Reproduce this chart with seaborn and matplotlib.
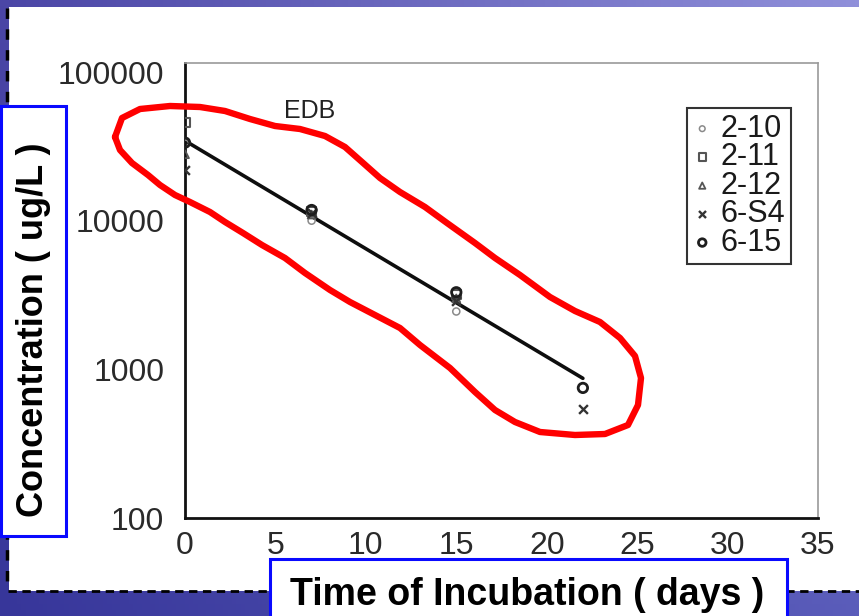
import numpy as np
import pandas as pd
import matplotlib
matplotlib.use("Agg")
import matplotlib.pyplot as plt
import seaborn as sns
from matplotlib.patches import Rectangle
from matplotlib.lines import Line2D
from matplotlib.colors import to_rgb

# ---------------- data ----------------
series_names = ["2-10", "2-11", "2-12", "6-S4", "6-15"]
days_2_10 = [0, 7, 15]
conc_2_10 = [33000, 10000, 2450]
days_2_11 = [0, 7, 15]
conc_2_11 = [46000, 11500, 3200]
days_2_12 = [0, 7, 15]
conc_2_12 = [28000, 11000, 3000]
days_6_S4 = [0, 7, 15, 22]
conc_6_S4 = [22000, 11200, 2900, 540]
days_6_15 = [0, 7, 15, 22]
conc_6_15 = [33500, 11800, 3300, 750]
trend_days = [0, 22]
trend_conc = [34500, 870]
x_ticks = [0, 5, 10, 15, 20, 25, 30, 35]
y_ticks = [100, 1000, 10000, 100000]
y_tick_labels = ["100", "1000", "10000", "100000"]

rows = []
for name, d, c in [("2-10", days_2_10, conc_2_10), ("2-11", days_2_11, conc_2_11),
                   ("2-12", days_2_12, conc_2_12), ("6-S4", days_6_S4, conc_6_S4),
                   ("6-15", days_6_15, conc_6_15)]:
    for dd, cc in zip(d, c):
        rows.append({"series": name, "day": dd, "conc": cc})
df = pd.DataFrame(rows)
trend_df = pd.DataFrame({"day": trend_days, "conc": trend_conc})

# ---------------- figure ----------------
sns.set_style("white")
plt.rcParams["font.family"] = ["Liberation Sans", "DejaVu Sans"]
W, H = 859, 616
fig = plt.figure(figsize=(W / 100, H / 100), dpi=100)

def px(x, y):
    return x / W, 1 - y / H

# gradient background
bg = fig.add_axes([0, 0, 1, 1], zorder=0)
bg.set_axis_off()
tl, tr = np.array(to_rgb("#4b46a6")), np.array(to_rgb("#9090da"))
bl, br = np.array(to_rgb("#37369a")), np.array(to_rgb("#5a5cba"))
xs = np.linspace(0, 1, 200)[None, :, None]
ys = np.linspace(0, 1, 100)[:, None, None]
img = (1 - ys) * ((1 - xs) * tl + xs * tr) + ys * ((1 - xs) * bl + xs * br)
bg.imshow(img, aspect="auto", extent=[0, 1, 0, 1], origin="upper")
bg.set_xlim(0, 1)
bg.set_ylim(0, 1)

# white slide area
x0, y0 = px(9, 591)
x1, y1 = px(859, 7)
fig.patches.append(Rectangle((x0, y0), x1 - x0, y1 - y0, transform=fig.transFigure,
                             facecolor="white", edgecolor="none", zorder=1))
# dashed borders
fig.lines.append(Line2D([px(7, 0)[0]] * 2, [px(0, 8)[1], px(0, 591)[1]], transform=fig.transFigure,
                        color="black", lw=2.5, ls=(0, (3, 3)), zorder=2))
fig.lines.append(Line2D([px(8, 0)[0], px(859, 0)[0]], [px(0, 591)[1]] * 2, transform=fig.transFigure,
                        color="black", lw=2.0, ls=(0, (3, 2)), zorder=2))

# ---------------- main axes ----------------
ax = fig.add_axes([185 / W, 1 - 518 / H, (818 - 185) / W, (518 - 63) / H], zorder=3)
ax.set_facecolor("none")

styles = {
    "2-10": dict(marker="o", s=26, ec="#8a8a8a", lw=1.1),
    "2-11": dict(marker="s", s=44, ec="#555555", lw=1.5),
    "2-12": dict(marker="^", s=32, ec="#555555", lw=1.3),
    "6-S4": dict(marker="x", s=40, ec="#333333", lw=1.7),
    "6-15": dict(marker="o", s=46, ec="#1e1e1e", lw=2.0),
}
sns.lineplot(data=trend_df, x="day", y="conc", color="#0e0e0e", lw=2.6, ax=ax, zorder=2)
for name in series_names:
    st = styles[name]
    sub = df[df["series"] == name]
    if st["marker"] == "x":
        sns.scatterplot(data=sub, x="day", y="conc", marker="x", s=st["s"], color=st["ec"],
                        linewidth=st["lw"], ax=ax, label=name, zorder=3)
    else:
        sns.scatterplot(data=sub, x="day", y="conc", marker=st["marker"], s=st["s"],
                        facecolor="none", edgecolor=st["ec"], linewidth=st["lw"],
                        ax=ax, label=name, zorder=3)

ax.set_yscale("log")
ax.set_xlim(0, 35)
ax.set_ylim(100, 1.15e5)
ax.set_xticks(x_ticks)
ax.set_xticklabels([str(t) for t in x_ticks])
ax.set_yticks(y_ticks)
ax.set_yticklabels(y_tick_labels)
ax.yaxis.set_minor_locator(matplotlib.ticker.NullLocator())
ax.set_xlabel("")
ax.set_ylabel("")
ax.tick_params(axis="both", direction="out", length=5, width=1.2, color="#333333",
               labelsize=23, labelcolor="#2a2a2a")
ax.tick_params(axis="x", pad=4)
ax.tick_params(axis="y", pad=10)
for side in ["left", "bottom"]:
    ax.spines[side].set_color("#111111")
    ax.spines[side].set_linewidth(2.0)
for side in ["top", "right"]:
    ax.spines[side].set_color("#9a9a9a")
    ax.spines[side].set_linewidth(1.2)

ax.text(6.9, 5.5e4, "EDB", fontsize=18, color="#222222", ha="center", va="center")

leg = ax.legend(loc="upper left", bbox_to_anchor=(0.793, 0.902), fontsize=22,
                frameon=True, fancybox=False, edgecolor="#333333", framealpha=1,
                handlelength=0.6, handletextpad=0.3, labelspacing=-0.05,
                borderpad=0.2, borderaxespad=0, markerscale=0.8)
leg.get_frame().set_linewidth(1.5)
for t in leg.get_texts():
    t.set_color("#1a1a1a")

# ---------------- red hand-drawn loop ----------------
loop_px = [(115, 137), (122, 118), (140, 109), (170, 106), (200, 107), (225, 111), (250, 119),
           (275, 126), (300, 129), (325, 136), (345, 147), (362, 162), (380, 178), (400, 192),
           (425, 207), (447, 223), (475, 243), (495, 258), (520, 275), (550, 297), (575, 311),
           (600, 322), (620, 338), (635, 356), (641, 378), (638, 405), (628, 425), (605, 434),
           (575, 435), (540, 432), (515, 422), (495, 410), (475, 392), (450, 368), (420, 345),
           (400, 328), (375, 315), (350, 302), (330, 290), (305, 273), (285, 258), (262, 245),
           (243, 233), (225, 222), (210, 212), (190, 202), (175, 195), (160, 185), (148, 175),
           (132, 163), (120, 150), (115, 137)]
lx = [px(a, b)[0] for a, b in loop_px]
ly = [px(a, b)[1] for a, b in loop_px]
fig.lines.append(Line2D(lx, ly, transform=fig.transFigure, color="#ff0000", lw=4.6,
                        solid_joinstyle="round", solid_capstyle="round", zorder=5))

# ---------------- boxed axis labels ----------------
bx0, by0 = px(1, 536)
bx1, by1 = px(66, 106)
fig.patches.append(Rectangle((bx0, by0), bx1 - bx0, by1 - by0, transform=fig.transFigure,
                             facecolor="white", edgecolor="#0a0aff", lw=2.2, zorder=6))
fig.text(*px(34, 330), "Concentration ( ug/L )", rotation=90, ha="center", va="center",
         fontsize=26, fontweight="bold", color="black", zorder=7)

cx0, cy0 = px(270, 640)
cx1, cy1 = px(787, 559)
fig.patches.append(Rectangle((cx0, cy0), cx1 - cx0, cy1 - cy0, transform=fig.transFigure,
                             facecolor="white", edgecolor="#0a0aff", lw=2.2, zorder=6))
fig.text(*px(527, 595), "Time of Incubation ( days )", ha="center", va="center",
         fontsize=27, fontweight="bold", color="black", zorder=7)

fig.savefig("out.png", dpi=100)
